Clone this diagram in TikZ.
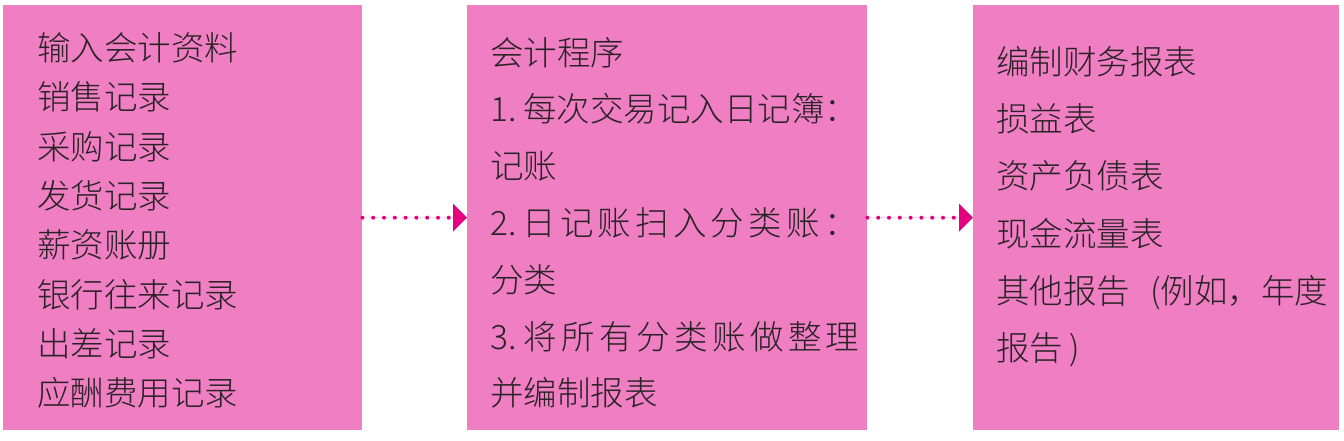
\documentclass[tikz,border=0pt]{standalone}
\usepackage{fontspec}
\setmainfont{Noto Sans CJK SC Light}
\usetikzlibrary{arrows.meta}
\definecolor{boxpink}{HTML}{F07EC3}
\definecolor{arrowmag}{HTML}{E4007F}
\definecolor{txtcol}{HTML}{2A2326}
\newlength\lskern
\def\lsp#1{\ifx\relax#1\else#1\kern\lskern\expandafter\lsp\fi}
\newcommand\spacedtext[2]{\setlength\lskern{#1}\lsp#2\relax}
\begin{document}
\begin{tikzpicture}[x=1pt,y=-1pt]
\useasboundingbox (0,0) rectangle (1344,440);
\tikzset{
  panel/.style={fill=boxpink, draw=none, inner sep=0pt, anchor=north west, minimum height=425pt},
  ln/.style={anchor=base west, inner sep=0pt, text=txtcol, font=\fontsize{33.5}{40}\selectfont},
  conn/.style={draw=arrowmag, line width=4pt, line cap=round, dash pattern=on 0pt off 10.8pt,
    -{Triangle[length=14pt,width=28pt,line width=0pt]}, fill=arrowmag}
}
\node[panel, minimum width=359pt] (b1) at (3,5) {};
\node[panel, minimum width=400pt] (b2) at (467,5) {};
\node[panel, minimum width=366pt] (b3) at (973,5) {};
\foreach \t [count=\i] in {{输入会计资料},{销售记录},{采购记录},{发货记录},{薪资账册},{银行往来记录},{出差记录},{应酬费用记录}}
  \node[ln] (la\i) at (37,{60.5+49.3*(\i-1)}) {\t};
\foreach \t [count=\i] in {{会计程序},{1.\kern7pt每次交易记入日记簿：},{记账},{2.\kern6pt\spacedtext{4.2pt}{日记账扫入分类账}：},{分类},{3.\kern7pt\spacedtext{4.3pt}{将所有分类账做整理}},{并编制报表}}
  \node[ln] (lb\i) at (490,{65+56.8*(\i-1)}) {\t};
\foreach \t [count=\i] in {{编制财务报表},{损益表},{资产负债表},{现金流量表},{其他报告\kern20pt(例如，年度},{报告\kern6pt)}}
  \node[ln] (lc\i) at (996,{74.5+57.2*(\i-1)}) {\t};
\draw[conn] (b1.east) -- (b2.west);
\draw[conn] (b2.east) -- (b3.west);
\end{tikzpicture}
\end{document}
